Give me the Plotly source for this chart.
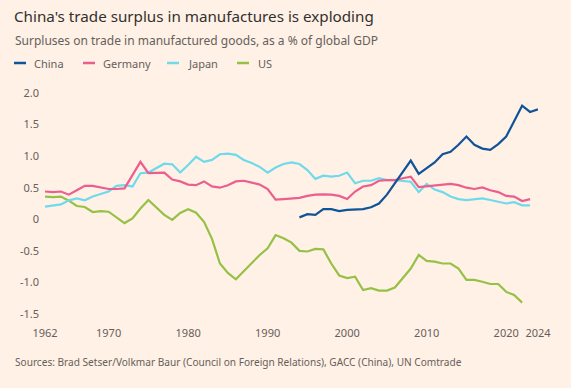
import plotly.graph_objects as go

W, H = 571, 388
ML, MR, MT, MB = 45, 33, 93, 74

china_years = list(range(1994, 2025))
china = [0.03, 0.08, 0.07, 0.16, 0.16, 0.13, 0.15, 0.15, 0.16, 0.19, 0.25, 0.39,
         0.57, 0.77, 0.93, 0.72, 0.81, 0.90, 1.03, 1.07, 1.18, 1.31, 1.18, 1.12,
         1.10, 1.19, 1.31, 1.56, 1.80, 1.70, 1.74]
germany_years = list(range(1962, 2024))
germany = [0.44, 0.43, 0.44, 0.39, 0.46, 0.53, 0.53, 0.50, 0.48, 0.48, 0.49, 0.70,
           0.91, 0.73, 0.73, 0.74, 0.63, 0.60, 0.55, 0.54, 0.60, 0.52, 0.50, 0.54,
           0.60, 0.61, 0.58, 0.55, 0.48, 0.31, 0.32, 0.33, 0.34, 0.37, 0.39, 0.395,
           0.39, 0.37, 0.32, 0.44, 0.52, 0.54, 0.61, 0.62, 0.62, 0.65, 0.675, 0.51,
           0.52, 0.54, 0.55, 0.56, 0.54, 0.50, 0.48, 0.505, 0.46, 0.43, 0.37, 0.36,
           0.29, 0.32]
japan_years = list(range(1962, 2024))
japan = [0.20, 0.215, 0.235, 0.30, 0.33, 0.30, 0.36, 0.40, 0.44, 0.53, 0.54, 0.52,
         0.73, 0.74, 0.81, 0.88, 0.87, 0.74, 0.86, 0.99, 0.91, 0.94, 1.03, 1.04,
         1.02, 0.94, 0.89, 0.83, 0.74, 0.82, 0.875, 0.90, 0.875, 0.78, 0.64, 0.69,
         0.675, 0.69, 0.74, 0.57, 0.61, 0.61, 0.65, 0.62, 0.62, 0.61, 0.595, 0.43,
         0.56, 0.47, 0.43, 0.36, 0.32, 0.305, 0.32, 0.33, 0.305, 0.28, 0.25, 0.27,
         0.22, 0.22]
us_years = list(range(1962, 2023))
us = [0.36, 0.35, 0.36, 0.295, 0.21, 0.195, 0.115, 0.13, 0.12, 0.025, -0.06, 0.015,
      0.17, 0.305, 0.18, 0.07, -0.01, 0.10, 0.16, 0.105, -0.04, -0.31, -0.70, -0.85,
      -0.95, -0.82, -0.69, -0.565, -0.46, -0.25, -0.30, -0.37, -0.50, -0.51, -0.47,
      -0.475, -0.70, -0.89, -0.93, -0.91, -1.12, -1.09, -1.13, -1.13, -1.08, -0.93,
      -0.78, -0.565, -0.66, -0.67, -0.70, -0.70, -0.78, -0.96, -0.96, -0.99, -1.025,
      -1.025, -1.15, -1.20, -1.32]

xtick_vals = [1962, 1970, 1980, 1990, 2000, 2010, 2020, 2024]
xtick_text = ["1962", "1970", "1980", "1990", "2000", "2010", "2020", "2024"]
ytick_vals = [-1.5, -1.0, -0.5, 0, 0.5, 1.0, 1.5, 2.0]
ytick_text = ["-1.5", "-1.0", "-0.5", "0", "0.5", "1.0", "1.5", "2.0"]

series_names = ["China", "Germany", "Japan", "US"]
colors = ["#0f5499", "#eb5e8d", "#6fdaea", "#96c147"]

title = "China's trade surplus in manufactures is exploding"
subtitle = "Surpluses on trade in manufactured goods, as a % of global GDP"
source = "Sources: Brad Setser/Volkmar Baur (Council on Foreign Relations), GACC (China), UN Comtrade"

FONT = "Noto Sans"
BG = "#fff1e5"

fig = go.Figure()
data = [(china_years, china), (germany_years, germany), (japan_years, japan), (us_years, us)]
for idx in [3, 2, 1, 0]:
    xs, ys = data[idx]
    fig.add_trace(go.Scatter(x=xs, y=ys, mode="lines", name=series_names[idx],
                             line=dict(color=colors[idx], width=2.2),
                             hoverinfo="x+y+name", showlegend=False))

pw = W - ML - MR
ph = H - MT - MB

def px2x(px):
    return (px - ML) / pw

def py2y(py):
    return (H - MB - py) / ph

annotations = [
    dict(text=title, x=px2x(12), y=py2y(16), xref="paper", yref="paper",
         xanchor="left", yanchor="middle", showarrow=False,
         font=dict(family=FONT, size=15.2, color="#33302e")),
    dict(text=subtitle, x=px2x(13), y=py2y(41), xref="paper", yref="paper",
         xanchor="left", yanchor="middle", showarrow=False,
         font=dict(family=FONT, size=12, color="#66605c")),
    dict(text=source, x=px2x(13), y=py2y(362), xref="paper", yref="paper",
         xanchor="left", yanchor="middle", showarrow=False,
         font=dict(family=FONT, size=10.1, color="#66605c")),
]
shapes = []
legend_swatch_x = [14, 83, 167, 237]
legend_text_x = [32, 101, 186, 256]
for i, name in enumerate(series_names):
    shapes.append(dict(type="line", xref="paper", yref="paper",
                       x0=px2x(legend_swatch_x[i]), x1=px2x(legend_swatch_x[i] + 12),
                       y0=py2y(63), y1=py2y(63),
                       line=dict(color=colors[i], width=2.5)))
    annotations.append(dict(text=name, x=px2x(legend_text_x[i]), y=py2y(63),
                            xref="paper", yref="paper", xanchor="left", yanchor="middle",
                            showarrow=False,
                            font=dict(family=FONT, size=11, color="#66605c")))

fig.update_layout(
    width=W, height=H,
    margin=dict(l=ML, r=MR, t=MT, b=MB, pad=0),
    paper_bgcolor=BG, plot_bgcolor=BG,
    showlegend=False,
    annotations=annotations, shapes=shapes,
    font=dict(family=FONT, size=11, color="#66605c"),
)
fig.update_xaxes(range=[1962, 2024], tickvals=xtick_vals, ticktext=xtick_text,
                 showgrid=False, zeroline=False, showline=False, ticks="",
                 ticklabelstandoff=11, tickfont=dict(family=FONT, size=11, color="#66605c"))
fig.update_yaxes(range=[-1.5, 2.0], tickvals=ytick_vals, ticktext=ytick_text,
                 showgrid=False, zeroline=False, showline=False, ticks="",
                 ticklabelstandoff=5, tickfont=dict(family=FONT, size=11, color="#66605c"))

fig.write_html("out.html")
